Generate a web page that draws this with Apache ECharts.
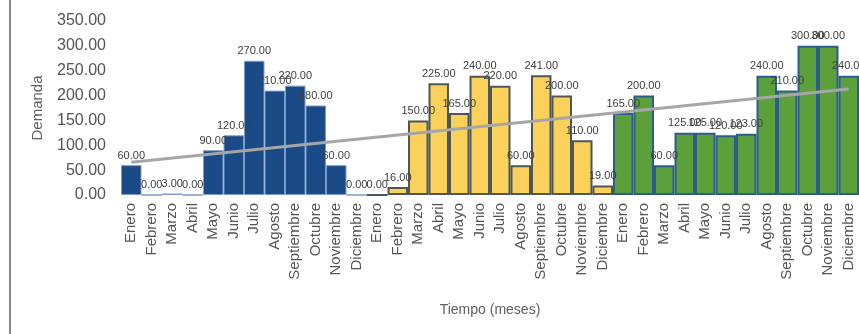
<!DOCTYPE html>
<html>
<head>
<meta charset="utf-8">
<script src="https://cdn.jsdelivr.net/npm/echarts@6/dist/echarts.min.js"></script>
<style>
html,body{margin:0;padding:0;background:#fff;}
#c{width:859px;height:334px;}
</style>
</head>
<body>
<div id="c"></div>
<script>
const months = ['Enero','Febrero','Marzo','Abril','Mayo','Junio','Julio','Agosto','Septiembre','Octubre','Noviembre','Diciembre'];
const year1 = [60, 0, 3, 0, 90, 120, 270, 210, 220, 180, 60, 0];
const year2 = [0, 16, 150, 225, 165, 240, 220, 60, 241, 200, 110, 19];
const year3 = [165, 200, 60, 125, 125, 120, 123, 240, 210, 300, 300, 240];
const trendStart = 66;
const trendEnd = 213;
const yTicks = [0, 50, 100, 150, 200, 250, 300, 350];

const categories = months.concat(months, months);
const styles = [
  {color:'#1a4b86', borderColor:'#7b9cc6', borderWidth:1},
  {color:'#fbd05b', borderColor:'#4c5858', borderWidth:2},
  {color:'#5ba03b', borderColor:'#2d5d8e', borderWidth:2}
];
const barData = [];
[year1, year2, year3].forEach((arr, k) => {
  arr.forEach(v => barData.push({value: v, itemStyle: styles[k]}));
});
const trendData = categories.map(() => null);
trendData[0] = trendStart;
trendData[trendData.length - 1] = trendEnd;

const font = 'Liberation Sans, Arial, sans-serif';
const chart = echarts.init(document.getElementById('c'));
chart.setOption({
  animation: false,
  backgroundColor: '#fff',
  grid: {left: 121, right: -3, top: 21, bottom: 139},
  graphic: [{type:'line', shape:{x1:10, y1:0, x2:10, y2:334}, style:{stroke:'#888', lineWidth:2}}],
  xAxis: {
    type: 'category',
    data: categories,
    name: 'Tiempo (meses)',
    nameLocation: 'middle',
    nameGap: 108,
    nameTextStyle: {fontFamily: font, fontSize: 14, color: '#606060'},
    axisLine: {show: false},
    axisTick: {show: false},
    axisLabel: {rotate: 90, interval: 0, fontFamily: font, fontSize: 15, color: '#555', margin: 8}
  },
  yAxis: {
    type: 'value',
    min: yTicks[0], max: yTicks[yTicks.length - 1], interval: 50,
    name: 'Demanda',
    nameLocation: 'middle',
    nameGap: 76,
    nameTextStyle: {fontFamily: font, fontSize: 15, color: '#606060'},
    axisLine: {show: false},
    axisTick: {show: false},
    splitLine: {show: false},
    axisLabel: {fontFamily: font, fontSize: 16, color: '#555', margin: 15, formatter: v => v.toFixed(2)}
  },
  series: [
    {
      type: 'bar',
      data: barData,
      barCategoryGap: '0%',
      label: {show: true, position: 'top', distance: 4, fontFamily: font, fontSize: 11, color: '#404040', formatter: p => p.value.toFixed(2)}
    },
    {
      type: 'line',
      data: trendData,
      connectNulls: true,
      symbol: 'none',
      z: 5,
      lineStyle: {color: '#a6a6a6', width: 3},
      silent: true
    }
  ]
});
</script>
</body>
</html>
